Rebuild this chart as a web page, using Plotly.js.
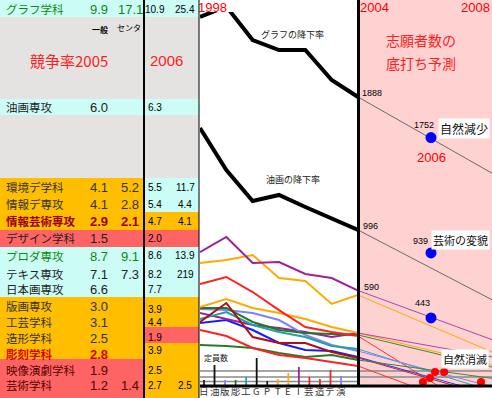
<!DOCTYPE html>
<html><head><meta charset="utf-8">
<script src="https://cdn.plot.ly/plotly-3.0.1.min.js"></script>
<style>html,body{margin:0;padding:0;background:#fff;overflow:hidden}#chart{width:492px;height:398px}</style>
</head><body><div id="chart"></div>
<script>
// ---------- DATA ----------
// Table: competition rates (一般 / センタ) 2005 and 2006
const deptNames   = ['グラフ学科','油画専攻','環境デ学科','情報デ専攻','情報芸術専攻','デザイン学科','プロダ専攻','テキス専攻','日本画専攻','版画専攻','工芸学科','造形学科','彫刻学科','映像演劇学科','芸術学科'];
const rate2005Gen = ['9.9','6.0','4.1','4.1','2.9','1.5','8.7','7.1','6.6','3.0','3.1','2.5','2.8','1.9','1.2'];
const rate2005Ctr = ['17.1','','5.2','2.8','2.1','','9.1','7.3','','','','','','','1.4'];
const rate2006Gen = ['10.9','6.3','5.5','5.4','4.7','2.0','8.6','8.2','7.7','3.9','4.4','1.9','3.9','2.5','2.7'];
const rate2006Ctr = ['25.4','','11.7','4.4','4.1','','13.9','219','','','','','','','2.5'];

// Applicants 1998-2004
const years      = [1998,1999,2000,2001,2002,2003,2004];
const graphic    = [2425,2495,2270,2203,2203,2002,1888];
const oilPaint   = [1680,1398,1190,1231,1150,1070,996];
const infoDesign = [848,949,775,781,701,674,590];
const envDesign  = [775,795,828,674,654,500,560];
const design     = [634,681,580,459,345,312,285];
const textile    = [480,533,473,439,399,345,305];
const infoArts   = [379,506,278,238,238,178,138];
const sculpture  = [473,473,379,325,305,298,292];
const crafts     = [399,446,359,312,278,218,198];
const printmaking= [466,459,439,392,292,225,184];
const product    = [439,399,359,339,312,278,305];
const drama      = [372,392,325,238,191,184,144];
const artStudies = [325,285,205,158,138,111,84];
const japPaint   = [225,218,205,171,144,158,124];

// Projection 2004 -> 2008
const projYears = [2004,2008];
const projEnd = {
  graphic:1331, oilPaint:486, infoDesign:231, envDesign:144, design:-325, textile:70,
  infoArts:-144, sculpture:57, crafts:-111, printmaking:-77, product:131, drama:-130,
  artStudies:-280, japPaint:-10
};
// 2006 predictions (blue) and vanishing departments (red)
const predYears  = [2006,2006,2006];
const predValues = [1616,842,406];
const predLabels = ['1752','939','443'];
const startLabels= ['1888','996','590'];
const vanishX = [2006.11,2006.36,2005.97,2005.78,2007.37];
const vanishY = [44,44,3,-23,-23];

// Capacity (定員数)
const capLabels = ['日','油','版','彫','工','G','P','T','E','I','芸','造','デ','演'];
const capacity  = [35,110,35,35,50,145,30,40,70,100,50,40,85,55];

// ---------- LAYOUT HELPERS ----------
const W=492,H=398;
const px=x=>x/W, py=y=>1-y/H;
const JP='"Noto Sans CJK JP", sans-serif', AR='"Liberation Sans", Arial, sans-serif';
const C_CYAN='#ccfcf6', C_GRAY='#e4e3e1', C_ORANGE='#ffbe00', C_RED='#ff6464', C_PINK='#ffd2d2';

const shapes=[];
function rect(x0,y0,x1,y1,c,layer){shapes.push({type:'rect',xref:'paper',yref:'paper',x0:px(x0),x1:px(x1),y0:py(y1),y1:py(y0),fillcolor:c,line:{width:0},layer:layer||'below'});}
function line(x0,y0,x1,y1,c,w,layer){shapes.push({type:'line',xref:'paper',yref:'paper',x0:px(x0),x1:px(x1),y0:py(y0),y1:py(y1),line:{color:c,width:w},layer:layer||'above'});}

const leftBands=[[0,17,C_CYAN],[17,99,C_GRAY],[99,115,C_CYAN],[115,178,C_GRAY],[178,230,C_ORANGE],[230,247,C_RED],[247,297,C_CYAN],[297,359,C_ORANGE],[359,398,C_RED]];
const rightBands=[[0,17,C_CYAN],[17,99,C_GRAY],[99,115,C_CYAN],[115,178,C_GRAY],[178,212,C_CYAN],[212,230,C_ORANGE],[230,247,C_RED],[247,297,C_CYAN],[297,327,C_ORANGE],[327,343,C_RED],[343,398,C_ORANGE]];
leftBands.forEach(b=>rect(0,b[0],144,b[1],b[2]));
rightBands.forEach(b=>rect(144,b[0],199,b[1],b[2]));
rect(358,0,492,386,C_PINK);
line(144,0,144,398,'#000',2);
line(199,0,199,398,'#000',1);
line(200,386,492,386,'#000',3);
line(358.5,0,358.5,387,'#000',3);
// reference lines in capacity zone
[80,50].forEach(v=>shapes.push({type:'line',xref:'paper',yref:'y3',x0:px(200),x1:1,y0:v,y1:v,line:{color:'#8a8a8a',width:1.5},layer:'below'}));
shapes.push({type:'line',xref:'paper',yref:'y3',x0:px(200),x1:px(358),y0:28,y1:28,line:{color:'#8a8a8a',width:1.5},layer:'below'});

// ---------- ANNOTATIONS ----------
const ann=[];
function txt(t,x,y,o){ann.push(Object.assign({text:t,x:px(x),y:py(y),xref:'paper',yref:'paper',showarrow:false,xanchor:'center',yanchor:'middle',borderpad:0,font:{family:JP,size:12,color:'#222'}},o||{}));}

const rowY  =[9,107,187,204,221,238,256,274,289,306,322,338,354,370,385];
const rowY2 =[9,107,187,205,221,238,255,274,289,309,322,337,350,370,385];
const rowCol=['#0a8a0a','#222','#333','#333','#990000','#222','#0a8a0a','#222','#222','#333','#333','#333','#dd0000','#550000','#550000'];
const rowBold=[false,false,false,false,true,false,false,false,false,false,false,false,true,false,false];
deptNames.forEach((n,i)=>{
  const c=rowCol[i], b=rowBold[i];
  txt(b?'<b>'+n+'</b>':n,5,rowY[i],{xanchor:'left',font:{family:JP,size:11.5,color:c}});
  const f={family:AR,size:13,color:c};
  txt(b?'<b>'+rate2005Gen[i]+'</b>':rate2005Gen[i],99,rowY[i],{font:f});
  if(rate2005Ctr[i]) txt(b?'<b>'+rate2005Ctr[i]+'</b>':rate2005Ctr[i],130,rowY[i],{font:f});
  txt(rate2006Gen[i],155,rowY2[i],{font:{family:AR,size:10,color:'#000'}});
  if(rate2006Ctr[i]) txt(rate2006Ctr[i],185,rowY2[i],{font:{family:AR,size:10,color:'#000'}});
});
txt('<b>一般</b>',100,29,{font:{family:JP,size:8,color:'#000'}});
txt('センタ',129,27,{font:{family:JP,size:8,color:'#000'}});
txt('競争率2005',69,61,{font:{family:JP,size:15,color:'#ff2020'}});
txt('2006',166,61,{font:{family:AR,size:15,color:'#ff2020'}});

txt('1998',212,8,{font:{family:AR,size:13,color:'#ff0000'}});
txt('2004',374,8,{font:{family:AR,size:13,color:'#ff0000'}});
txt('2008',491,8,{xanchor:'right',font:{family:AR,size:13,color:'#ff0000'}});
txt('2006',431,157,{font:{family:AR,size:13,color:'#ff0000'}});
txt('志願者数の',421,40,{font:{family:JP,size:14,color:'#ff2020'}});
txt('底打ち予測',421,63,{font:{family:JP,size:14,color:'#ff2020'}});
txt('グラフの降下率',292,34,{font:{family:JP,size:9,color:'#222'}});
txt('油画の降下率',293,180,{font:{family:JP,size:9,color:'#222'}});
txt('定員数',203,357,{xanchor:'left',font:{family:JP,size:8,color:'#222'}});
const startY=[93,226,287], predLY=[125,241,303], startX=[372,370,371], predLX=[424,420,422];
startLabels.forEach((t,i)=>txt(t,startX[i],startY[i],{font:{family:AR,size:9,color:'#000'}}));
predLabels.forEach((t,i)=>txt(t,predLX[i],predLY[i],{font:{family:AR,size:9,color:'#000'}}));
txt('自然減少',490,128,{xanchor:'right',bgcolor:'#fff',borderpad:1,font:{family:JP,size:12,color:'#111'}});
txt('芸術の変貌',490,240,{xanchor:'right',bgcolor:'#fff',borderpad:1,font:{family:JP,size:11,color:'#111'}});
txt('自然消滅',489,359,{xanchor:'right',bgcolor:'#fff',borderpad:1,font:{family:JP,size:11,color:'#111'}});
// capacity category labels along the bottom
capLabels.forEach(l=>ann.push({text:l,x:l,xref:'x3',y:py(391),yref:'paper',showarrow:false,xanchor:'center',yanchor:'middle',borderpad:0,font:{family:JP,size:9.5,color:'#333'}}));

// ---------- TRACES ----------
const series=[
  ['graphic',graphic,'#000',4,'#6a6a6a'],
  ['oilPaint',oilPaint,'#000',4,'#6a6a6a'],
  ['infoDesign',infoDesign,'#a0209a',2,'#b040b0'],
  ['envDesign',envDesign,'#ffaa00',2,'#ffaa00'],
  ['design',design,'#ff2020',2,'#ff3030'],
  ['textile',textile,'#ffaa00',2,'#ffaa00'],
  ['infoArts',infoArts,'#b01010',2,'#c02020'],
  ['sculpture',sculpture,'#207a20',2,'#3a8a3a'],
  ['crafts',crafts,'#20a0a8',2,'#30a8b0'],
  ['printmaking',printmaking,'#8080ff',2,'#8080ff'],
  ['product',product,'#a0209a',2,'#b040b0'],
  ['drama',drama,'#1a1aff',2,'#3030ff'],
  ['artStudies',artStudies,'#ff2020',2,'#ff3030'],
  ['japPaint',japPaint,'#2a7a2a',2,'#3a8a3a']
];
const traces=[];
series.forEach(s=>{
  traces.push({type:'scatter',mode:'lines',x:projYears,y:[s[1][s[1].length-1],projEnd[s[0]]],xaxis:'x2',yaxis:'y',line:{color:s[4],width:1},hoverinfo:'skip'});
});
series.slice().reverse().forEach(s=>{
  traces.push({type:'scatter',mode:'lines',x:years,y:s[1],xaxis:'x',yaxis:'y',line:{color:s[2],width:s[3]},hoverinfo:'skip'});
});
traces.push({type:'scatter',mode:'markers',x:predYears,y:predValues,xaxis:'x2',yaxis:'y',marker:{color:'#0000ff',size:11},cliponaxis:false});
traces.push({type:'scatter',mode:'markers',x:vanishX,y:vanishY,xaxis:'x2',yaxis:'y',marker:{color:'#ff0000',size:8},cliponaxis:false});
const capColors=['#222','#111','#8080ff','#207a20','#20a0a8','#111','#222','#ffaa00','#ffaa00','#a0209a','#ff2020','#ff2020','#ff2020','#8080ff'];
traces.push({type:'bar',x:capLabels,y:capacity,xaxis:'x3',yaxis:'y3',width:0.17,marker:{color:capColors,line:{width:0}}});

const hidden={visible:false,showgrid:false,zeroline:false,fixedrange:true};
const layout={
  width:W,height:H,margin:{l:0,r:0,t:0,b:0},paper_bgcolor:'#fff',plot_bgcolor:'rgba(0,0,0,0)',showlegend:false,
  xaxis:Object.assign({},hidden,{domain:[px(200),px(358)],range:[1998,2004],anchor:'y'}),
  xaxis2:Object.assign({},hidden,{domain:[px(358),1],range:[2004,2007.671],anchor:'y'}),
  yaxis:Object.assign({},hidden,{domain:[py(387),py(12)],range:[-57,2458],anchor:'x'}),
  xaxis3:{type:'category',domain:[px(198.7),px(346.3)],range:[-0.5,13.5],anchor:'y3',showgrid:false,zeroline:false,showline:false,ticks:'',showticklabels:false,fixedrange:true},
  yaxis3:Object.assign({},hidden,{domain:[py(387),py(347)],range:[0,200],anchor:'x3'}),
  shapes:shapes,annotations:ann
};
Plotly.newPlot('chart',traces,layout,{staticPlot:true});
</script></body></html>
